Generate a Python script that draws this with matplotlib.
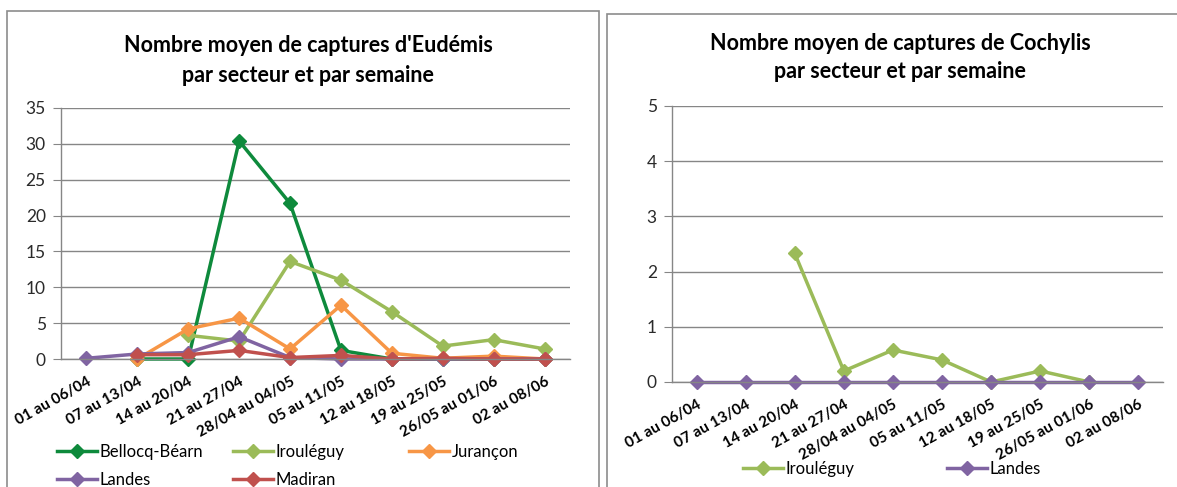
import numpy as np
import matplotlib
matplotlib.use('Agg')
from matplotlib import pyplot as plt
from matplotlib.patches import Rectangle

plt.rcParams['font.family'] = ['Lato', 'DejaVu Sans']

# semaines (categories)
weeks = ['01 au 06/04', '07 au 13/04', '14 au 20/04', '21 au 27/04', '28/04 au 04/05',
         '05 au 11/05', '12 au 18/05', '19 au 25/05', '26/05 au 01/06', '02 au 08/06']

nan = np.nan
# Eudemis
eud_bellocq = [nan, 0, 0, 30.4, 21.7, 1.2, 0, 0, 0, 0]
eud_irouleguy = [nan, nan, 3.3, 2.5, 13.6, 11.0, 6.6, 1.8, 2.7, 1.4]
eud_jurancon = [nan, 0, 4.2, 5.7, 1.4, 7.5, 0.8, 0.1, 0.4, 0]
eud_landes = [0.1, 0.7, 0.9, 3.1, 0.2, 0, 0, 0, 0, 0]
eud_madiran = [nan, 0.6, 0.6, 1.2, 0.2, 0.5, 0, 0.1, 0, 0]

# Cochylis
coc_irouleguy = [nan, nan, 2.33, 0.2, 0.58, 0.4, 0, 0.2, 0, nan]
coc_landes = [0, 0, 0, 0, 0, 0, 0, 0, 0, 0]

colors = {'Bellocq-Béarn': '#0e8a3c', 'Irouléguy': '#9bbb59', 'Jurançon': '#f79646',
          'Landes': '#8064a2', 'Madiran': '#c0504d'}

W, H = 1177, 487


def px(l, t, r, b):
    return [l / W, 1 - b / H, (r - l) / W, (b - t) / H]


def style_axes(ax, ymax, step):
    x = np.arange(len(weeks))
    ax.set_xlim(-0.5, len(weeks) - 0.5)
    ax.set_ylim(0, ymax)
    ax.set_yticks(np.arange(0, ymax + 0.001, step))
    ax.set_xticks(x)
    ax.set_xticklabels(weeks, rotation=29, ha='right', rotation_mode='anchor',
                       fontsize=11, fontweight='bold')
    ax.tick_params(axis='x', length=0, pad=11)
    ax.tick_params(axis='y', length=6, color='#868686', labelsize=12.5, pad=5,
                   labelcolor='#2a2a2a')
    ax.grid(axis='y', color='#868686', linewidth=1)
    ax.set_axisbelow(True)
    for s in ['top', 'right']:
        ax.spines[s].set_visible(False)
    for s in ['left', 'bottom']:
        ax.spines[s].set_color('#868686')
        ax.spines[s].set_linewidth(1)


def plot_line(ax, values, label):
    x = np.arange(len(weeks))
    return ax.plot(x, values, '-D', color=colors[label], linewidth=2.5, markersize=7,
                   label=label, clip_on=False)[0]


def legend_col(handles, left, top):
    # one legend per column, placed at its pixel position
    fig.legend(handles=handles, loc='upper left', bbox_to_anchor=(left / W, 1 - top / H),
               bbox_transform=fig.transFigure, frameon=False, fontsize=12,
               handlelength=2.4, handletextpad=0.15, borderaxespad=0, borderpad=0,
               labelspacing=0.7)


fig = plt.figure(figsize=(W / 100, H / 100), dpi=100)

# panel borders
fig.patches.append(Rectangle((7 / W, -0.1), 592 / W, 1.1 - 11 / H, transform=fig.transFigure,
                             fill=False, edgecolor='#8c8c8c', linewidth=1.2))
fig.patches.append(Rectangle((607 / W, -0.1), 0.5, 1.1 - 14 / H, transform=fig.transFigure,
                             fill=False, edgecolor='#8c8c8c', linewidth=1.2))

# Eudemis chart
ax1 = fig.add_axes(px(61, 108, 570, 359))
style_axes(ax1, 35, 5)
h_bel = plot_line(ax1, eud_bellocq, 'Bellocq-Béarn')
h_iro = plot_line(ax1, eud_irouleguy, 'Irouléguy')
h_jur = plot_line(ax1, eud_jurancon, 'Jurançon')
h_lan = plot_line(ax1, eud_landes, 'Landes')
h_mad = plot_line(ax1, eud_madiran, 'Madiran')
fig.text(308 / W, 1 - 46 / H, "Nombre moyen de captures d'Eudémis", ha='center', va='center',
         fontsize=15.5, fontweight='bold')
fig.text(308 / W, 1 - 75 / H, "par secteur et par semaine", ha='center', va='center',
         fontsize=15.5, fontweight='bold')
legend_col([h_bel, h_lan], 57, 444)
legend_col([h_iro, h_mad], 233, 444)
legend_col([h_jur], 409, 444)

# Cochylis chart
ax2 = fig.add_axes(px(672, 106, 1163, 382))
style_axes(ax2, 5, 1)
c_iro = plot_line(ax2, coc_irouleguy, 'Irouléguy')
c_lan = plot_line(ax2, coc_landes, 'Landes')
fig.text(900 / W, 1 - 43 / H, "Nombre moyen de captures de Cochylis", ha='center', va='center',
         fontsize=15.5, fontweight='bold')
fig.text(900 / W, 1 - 71 / H, "par secteur et par semaine", ha='center', va='center',
         fontsize=15.5, fontweight='bold')
legend_col([c_iro], 743, 461)
legend_col([c_lan], 947, 461)

fig.savefig('out.png', dpi=100)
